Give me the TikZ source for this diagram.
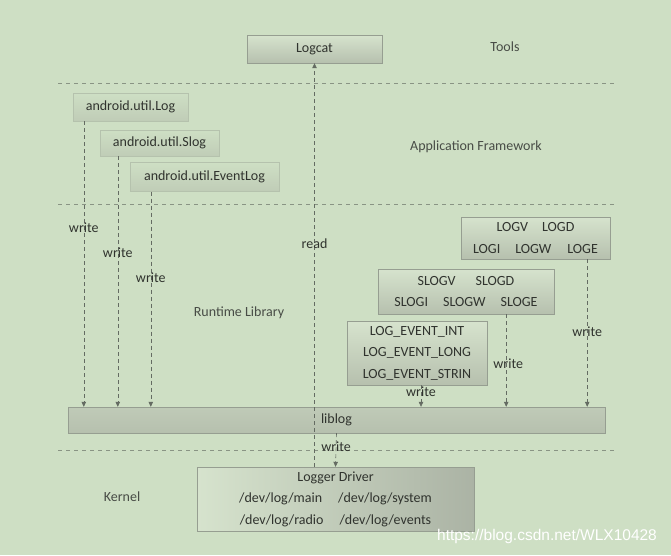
\documentclass[tikz,border=0pt]{standalone}
\usepackage{fontspec}
\setmainfont{Carlito}
\newfontfamily\wmfont{Liberation Sans}
\usepackage{tikz}
\usetikzlibrary{arrows.meta}
\definecolor{bgcol}{RGB}{206,223,196}
\definecolor{txtcol}{RGB}{48,51,46}
\definecolor{lbltxt}{RGB}{72,76,70}
\definecolor{linecol}{RGB}{100,107,98}
\definecolor{boxline}{RGB}{150,158,145}
\definecolor{boxtop}{RGB}{214,227,205}
\definecolor{boxbot}{RGB}{182,192,174}
\newcommand{\rowgap}[1]{\hspace{#1pt}}

\begin{document}
\begin{tikzpicture}[x=1pt,y=-1pt,
	every node/.style={text=txtcol,font=\fontsize{14}{21.5}\selectfont,inner sep=0pt},
	layer/.style={text=lbltxt},
	box/.style={draw=boxline,top color=boxtop,bottom color=boxbot,align=center},
	faintbox/.style={draw=boxline!45!bgcol,top color=bgcol,bottom color=boxbot!60!bgcol},
	link/.style={draw=linecol,dash pattern=on 4pt off 3pt,line width=.6pt,-{Triangle[length=5pt,width=4.5pt]}},
	sep/.style={draw=linecol!65!bgcol,dash pattern=on 4pt off 4pt,line width=.5pt}]
	\fill[bgcol] (0,0) rectangle (671,555);
	\draw[sep] (58,83)--(616,83);
	\draw[sep] (58,204)--(616,204);
	\draw[sep] (58,450)--(616,450);
	\node[box,minimum width=135pt,minimum height=28pt] (logcat) at (314.5,49) {Logcat};
	\node[layer] (tools) at (505,47) {Tools};
	\node[faintbox,minimum width=115pt,minimum height=28pt] (log) at (130.5,107) {android.util.Log};
	\node[faintbox,minimum width=119pt,minimum height=26pt] (slog) at (159.5,143) {android.util.Slog};
	\node[faintbox,minimum width=149pt,minimum height=29pt] (eventlog) at (204.5,177) {android.util.EventLog};
	\node[layer] (framework) at (476,147) {Application Framework};
	\node[layer] (runtime) at (239,313) {Runtime Library};
	\node[layer] (kernel) at (122,497) {Kernel};
	\node[box,minimum width=149pt,minimum height=42pt] (logv) at (535.5,238)
		{LOGV\rowgap{14}LOGD\\LOGI\rowgap{15}LOGW\rowgap{16}LOGE};
	\node[box,minimum width=176pt,minimum height=45pt] (slogv) at (466,291.5)
		{SLOGV\rowgap{20}SLOGD\\SLOGI\rowgap{15}SLOGW\rowgap{15}SLOGE};
	\node[box,minimum width=140pt,minimum height=64pt] (evt) at (417,353)
		{LOG\_EVENT\_INT\\LOG\_EVENT\_LONG\\LOG\_EVENT\_STRIN};
	\node[box,top color=boxbot!70!boxtop,minimum width=537pt,minimum height=26pt] (liblog) at (336.5,420) {liblog};
	\node[box,left color=boxtop,right color=boxbot!80!gray,minimum width=277pt,minimum height=64pt] (logger) at (335.5,499)
		{Logger Driver\\/dev/log/main\rowgap{16}/dev/log/system\\/dev/log/radio\rowgap{16}/dev/log/events};
	\coordinate (logout) at ([xshift=11pt]log.south west);
	\coordinate (slogout) at ([xshift=18pt]slog.south west);
	\coordinate (eventout) at ([xshift=21pt]eventlog.south west);
	\coordinate (logvout) at ([xshift=-23pt]logv.south east);
	\coordinate (slogvout) at ([xshift=-48pt]slogv.south east);
	\coordinate (evtout) at ([xshift=4pt]evt.south);
	\draw[link] (logout)--(logout |- liblog.north) node[pos=.374]{write};
	\draw[link] (slogout)--(slogout |- liblog.north) node[pos=.386]{write};
	\draw[link] (eventout)--(eventout |- liblog.north) node[pos=.4]{write};
	\draw[link] (logvout)--(logvout |- liblog.north) node[pos=.49]{write};
	\draw[link] (slogvout)--(slogvout |- liblog.north) node[pos=.53,xshift=2pt]{write};
	\draw[link] (evtout)--(evtout |- liblog.north) node[pos=.32]{write};
	\draw[link] (liblog.south)--(logger.north) node[pos=.41]{write};
	\draw[link] (logger.north -| logcat.south)--(logcat.south) node[pos=.554]{read};
	\node[text=white,font=\wmfont\fontsize{15.5}{16}\selectfont] (wm) at (547,536) {https://blog.csdn.net/WLX10428};
\end{tikzpicture}
\end{document}
